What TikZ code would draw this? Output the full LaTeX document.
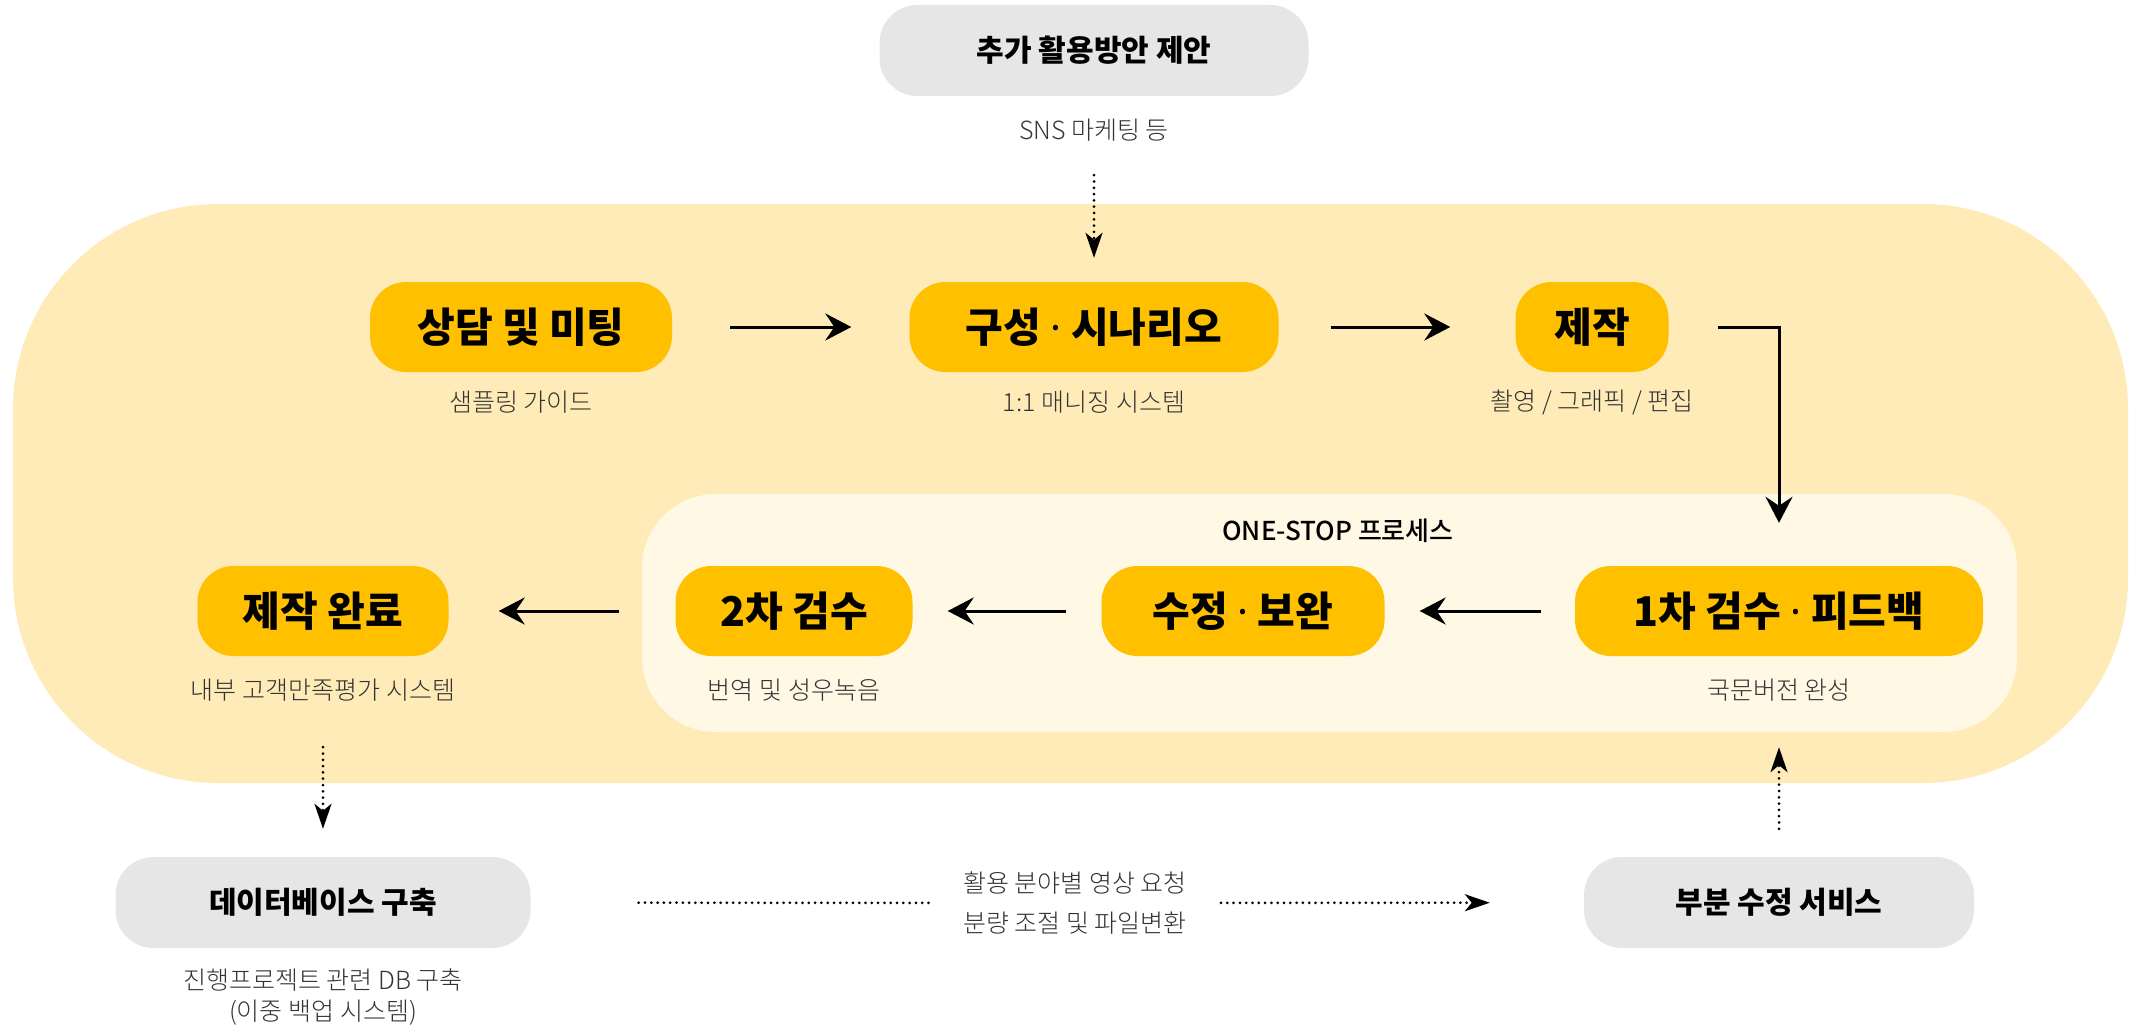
\documentclass[tikz,border=0pt]{standalone}
\usepackage{fontspec}
\setmainfont{Noto Sans CJK KR}
\IfFontExistsTF{Noto Sans CJK KR Light}{\newfontfamily\thinkr{Noto Sans CJK KR Light}}{\newfontfamily\thinkr{Noto Sans CJK KR}}
\IfFontExistsTF{Noto Sans CJK KR Medium}{\newfontfamily\midkr{Noto Sans CJK KR Medium}}{\newfontfamily\midkr{Noto Sans CJK KR}}
\newfontfamily\dotfont{Noto Sans}
\newcommand{\middot}{{\dotfont ·}}
\usetikzlibrary{arrows.meta}
\definecolor{paleyellow}{HTML}{FFEBB7}
\definecolor{creamy}{HTML}{FFF8E5}
\definecolor{amber}{HTML}{FFC000}
\definecolor{boxgray}{HTML}{E6E6E6}
\definecolor{notegray}{HTML}{333333}

\begin{document}
\begin{tikzpicture}[x=1pt,y=-1pt]
            \tikzset{
                stage/.style={fill=amber, rounded corners=36pt, minimum height=90pt, inner sep=0pt, font=\fontsize{41}{43}\selectfont\bfseries},
                service/.style={fill=boxgray, rounded corners=38pt, minimum height=91pt, inner sep=0pt, font=\fontsize{30}{32}\selectfont\bfseries},
                note/.style={inner sep=0pt, text=notegray, font=\thinkr\fontsize{25}{31}\selectfont},
                arr/.style={line width=3pt, -{Stealth[length=26pt, width=27pt, inset=9pt]}},
                dotline/.style={line width=3pt, line cap=round, dash pattern=on 0pt off 6.3pt},
                dotarr/.style={dotline, -{Stealth[length=25pt, width=17pt, inset=7pt]}}
            }
            \useasboundingbox (0,0) rectangle (2131,1027);
            \fill[paleyellow, rounded corners=205pt] (13,204) rectangle (2128,783);
            \fill[creamy, rounded corners=74pt] (642,494) rectangle (2017,732);

            \node[service, minimum width=429pt] (extra) at (1094,50.5) {추가 활용방안 제안};
            \node[note] (extranote) at (1094,130) {SNS 마케팅 등};

            \node[stage, minimum width=302pt] (consult) at (521,327) {상담 및 미팅};
            \node[stage, minimum width=369pt] (scenario) at (1094,327) {구성 \middot{} 시나리오};
            \node[stage, minimum width=153pt] (make) at (1592,327) {제작};
            \node[note] (consultnote) at (521,402) {샘플링 가이드};
            \node[note] (scenarionote) at (1094,402) {1:1 매니징 시스템};
            \node[note] (makenote) at (1592,402) {촬영 / 그래픽 / 편집};

            \node[font=\midkr\fontsize{26}{30}\selectfont, inner sep=0pt] (onestop) at (1338,531) {ONE-STOP 프로세스};

            \node[stage, minimum width=251pt] (done) at (323,611) {제작 완료};
            \node[stage, minimum width=237pt] (check2) at (794,611) {2차 검수};
            \node[stage, minimum width=283pt] (revise) at (1243,611) {수정 \middot{} 보완};
            \node[stage, minimum width=408pt] (check1) at (1779,611) {1차 검수 \middot{} 피드백};
            \node[note] (donenote) at (323,690) {내부 고객만족평가 시스템};
            \node[note] (check2note) at (794,690) {번역 및 성우녹음};
            \node[note] (check1note) at (1779,690) {국문버전 완성};

            \node[service, minimum width=415pt] (db) at (323,902.5) {데이터베이스 구축};
            \node[service, minimum width=390pt] (partial) at (1779,902.5) {부분 수정 서비스};
            \node[note, align=center] (dbnote) at (323,997.5) {진행프로젝트 관련 DB 구축\\(이중 백업 시스템)};
            \node[note, align=center, font=\thinkr\fontsize{25}{39.5}\selectfont] (req) at (1075,903) {활용 분야별 영상 요청\\분량 조절 및 파일변환};

            \draw[arr, shorten <=58pt, shorten >=58pt] (consult) -- (scenario);
            \draw[arr, shorten <=52pt, shorten >=65pt] (scenario) -- (make);
            \draw[arr, shorten <=49pt, shorten >=43pt] (make.east) -| (check1.north);
            \draw[arr, shorten <=34pt, shorten >=35pt] (check1) -- (revise);
            \draw[arr, shorten <=35pt, shorten >=35pt] (revise) -- (check2);
            \draw[arr, shorten <=56pt, shorten >=50pt] (check2) -- (done);

            \draw[dotarr, shorten <=79pt, shorten >=24pt] (extra) -- (scenario);
            \draw[dotarr, shorten <=91pt, shorten >=28pt] (done) -- (db);
            \draw[dotarr, shorten <=28pt, shorten >=91pt] (partial) -- (check1);
            \draw[dotline, shorten <=108pt, shorten >=33pt] (db) -- (req);
            \draw[dotarr, shorten <=34pt, shorten >=94pt] (req) -- (partial);
\end{tikzpicture}
\end{document}
